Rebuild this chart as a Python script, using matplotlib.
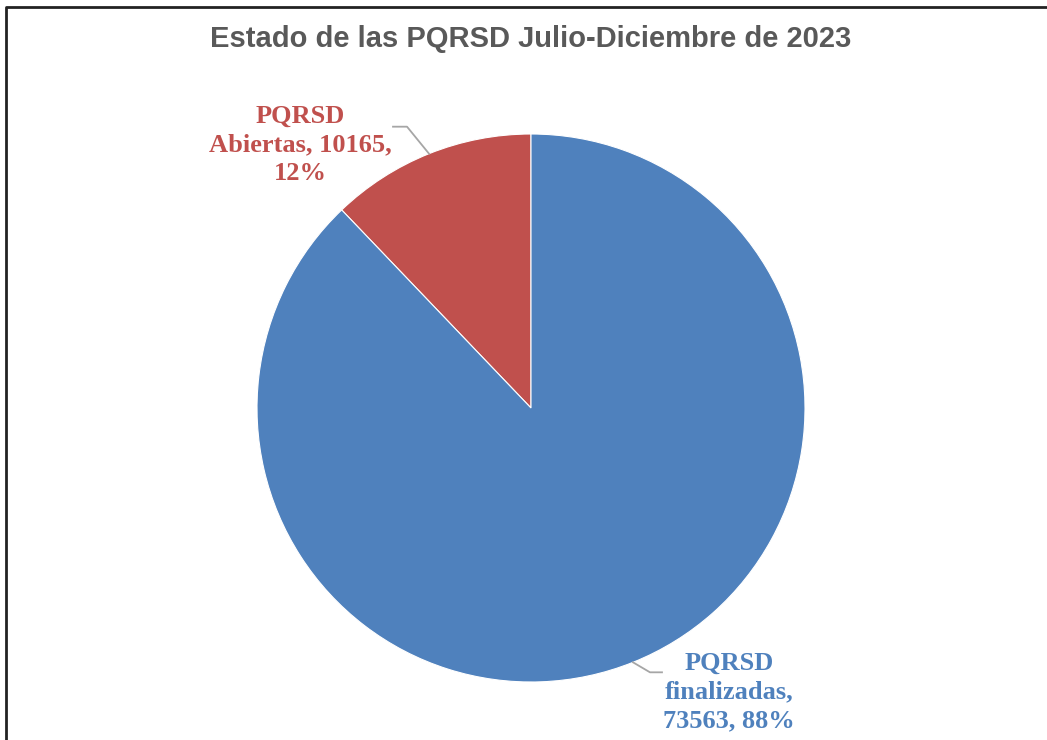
import matplotlib.pyplot as plt
import numpy as np

# datos
categorias = ["PQRSD Abiertas", "PQRSD finalizadas"]
valores = [10165, 73563]
colores = ["#C0504D", "#4F81BD"]
titulo = "Estado de las PQRSD Julio-Diciembre de 2023"

W, H = 1047, 740
fig = plt.figure(figsize=(W / 100, H / 100), dpi=100)
ax = fig.add_axes([0, 0, 1, 1])
ax.set_xlim(0, W)
ax.set_ylim(0, H)
ax.axis("off")

cx, cy, r = 531, H - 408, 274
wedges, _ = ax.pie(valores, colors=colores, startangle=90, counterclock=True,
                   center=(cx, cy), radius=r,
                   wedgeprops=dict(edgecolor="white", linewidth=0.8))
ax.set_xlim(0, W)
ax.set_ylim(0, H)
ax.set_aspect("equal")

total = sum(valores)
# etiquetas con lineas guia
lab_pos = [(300, H - 145), (729, H - 692)]
codos = [((-22, 27), (-36, 27)), ((17, -10), (29, -10))]
for w, cat, v, col, (tx, ty), cd in zip(wedges, categorias, valores, colores, lab_pos, codos):
    ang = np.deg2rad((w.theta1 + w.theta2) / 2)
    ex, ey = cx + r * np.cos(ang), cy + r * np.sin(ang)
    xs = [ex, ex + cd[0][0], ex + cd[1][0]]
    ys = [ey, ey + cd[0][1], ey + cd[1][1]]
    ax.plot(xs, ys, color="#A6A6A6", lw=1.3)
    pct = round(v / total * 100)
    if v == valores[0]:
        txt = "PQRSD\nAbiertas, %d,\n%d%%" % (v, pct)
    else:
        txt = "PQRSD\nfinalizadas,\n%d, %d%%" % (v, pct)
    ax.text(tx, ty, txt, color=col, ha="center", va="center", fontsize=19,
            fontweight="bold", family="Liberation Serif", linespacing=1.3)

ax.text(531, H - 47, titulo, ha="center", va="baseline", fontsize=21,
        fontweight="bold", family="Liberation Sans", color="#595959")

# borde
ax.plot([6, 6, W], [0, H - 7, H - 7], color="#222222", lw=2, clip_on=False)

fig.savefig("out.png", dpi=100)
